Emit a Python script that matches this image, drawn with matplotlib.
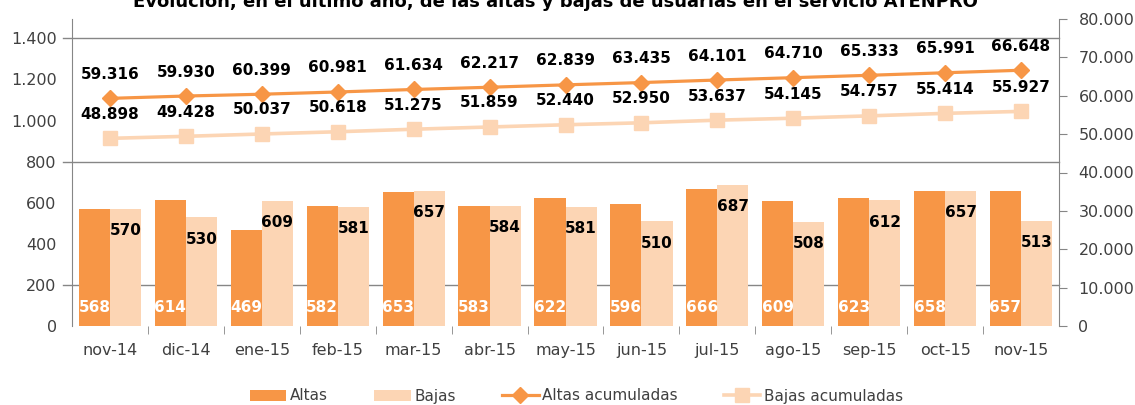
import numpy as np
import matplotlib
matplotlib.use("Agg")
import matplotlib.pyplot as plt
import matplotlib.transforms as mtransforms

meses = ["nov-14", "dic-14", "ene-15", "feb-15", "mar-15", "abr-15", "may-15",
         "jun-15", "jul-15", "ago-15", "sep-15", "oct-15", "nov-15"]
altas = [568, 614, 469, 582, 653, 583, 622, 596, 666, 609, 623, 658, 657]
bajas = [570, 530, 609, 581, 657, 584, 581, 510, 687, 508, 612, 657, 513]
altas_acum = [59316, 59930, 60399, 60981, 61634, 62217, 62839, 63435, 64101,
              64710, 65333, 65991, 66648]
bajas_acum = [48898, 49428, 50037, 50618, 51275, 51859, 52440, 52950, 53637,
              54145, 54757, 55414, 55927]

naranja = "#F79646"
melocoton = "#FCD5B4"
gris = "#868686"
texto = "#404040"

def fmt(v):
    return f"{v:,}".replace(",", ".")

plt.rcParams['font.family'] = ['DejaVu Sans']

fig = plt.figure(figsize=(11.35, 4.05), dpi=100)
ax = fig.add_axes([72/1135, 1-326/405, (1059-72)/1135, (326-19)/405])
ax2 = ax.twinx()

x = np.arange(len(meses))
w = 0.41
ax.set_xlim(-0.5, len(meses)-0.5)
ax.set_ylim(0, 1494)
ax2.set_ylim(0, 80000)

# gridlines (only these show in the original)
trans = mtransforms.blended_transform_factory(ax.transAxes, ax.transData)
for g in [200, 800, 1400]:
    ax.plot([-0.009, 1], [g, g], transform=trans, color=gris, lw=1, clip_on=False, zorder=1)

b1 = ax.bar(x - w/2, altas, w, color=naranja, zorder=2, label="Altas")
b2 = ax.bar(x + w/2, bajas, w, color=melocoton, zorder=2, label="Bajas")

for i in range(len(meses)):
    ax.annotate(str(altas[i]), (x[i] - w/2, 0), xytext=(0, 18), textcoords="offset pixels",
                ha="center", va="center", color="white", fontsize=11, fontweight="bold", zorder=5)
    ax.annotate(str(bajas[i]), (x[i] + w/2, bajas[i]), xytext=(0, -22), textcoords="offset pixels",
                ha="center", va="center", color="black", fontsize=11, fontweight="bold", zorder=5)

l1, = ax2.plot(x, altas_acum, color=naranja, lw=2.3, marker="D", markersize=8,
               label="Altas acumuladas", zorder=3)
l2, = ax2.plot(x, bajas_acum, color=melocoton, lw=2.6, marker="s", markersize=10,
               label="Bajas acumuladas", zorder=3)
for i in range(len(meses)):
    ax2.annotate(fmt(altas_acum[i]), (x[i], altas_acum[i]), xytext=(0, 24), textcoords="offset pixels",
                 ha="center", va="center", color="black", fontsize=11, fontweight="bold")
    ax2.annotate(fmt(bajas_acum[i]), (x[i], bajas_acum[i]), xytext=(0, 24), textcoords="offset pixels",
                 ha="center", va="center", color="black", fontsize=11, fontweight="bold")

# axes styling
ax.set_yticks(range(0, 1401, 200))
ax.set_yticklabels([fmt(v) for v in range(0, 1401, 200)])
ax.tick_params(axis="y", length=0, pad=11, labelsize=11.5, labelcolor=texto)
ax.set_xticks(x)
ax.set_xticklabels(meses)
ax.tick_params(axis="x", which="major", length=0, pad=12, labelsize=11.5, labelcolor=texto)
ax.set_xticks(np.arange(0.5, len(meses)-0.5, 1), minor=True)
ax.tick_params(axis="x", which="minor", length=6, color=gris, direction="out")

ax2.set_yticks(range(0, 80001, 10000))
ax2.set_yticklabels([fmt(v) for v in range(0, 80001, 10000)])
ax2.tick_params(axis="y", length=6, color=gris, pad=8, labelsize=11.5, labelcolor=texto)

for a in (ax, ax2):
    a.spines["top"].set_visible(False)
    a.spines["bottom"].set_visible(False)
    a.spines["left"].set_color(gris)
    a.spines["right"].set_color(gris)
ax.spines["right"].set_visible(False)
ax2.spines["left"].set_visible(False)

# title sits partly above the top edge, as in the original
fig.text(555/1135, 1-7/405,
         "Evolución, en el último año, de las altas y bajas de usuarias en el servicio ATENPRO",
         ha="center", va="baseline", fontsize=13, fontweight="bold", color="black")

fig.legend([b1, b2, l1, l2], ["Altas", "Bajas", "Altas acumuladas", "Bajas acumuladas"],
           loc="center", bbox_to_anchor=(0.508, 1-396/405), ncol=4, frameon=False,
           fontsize=11, handlelength=2.4, handletextpad=0.25, columnspacing=3,
           labelcolor=texto)

fig.savefig("out.png", dpi=100)
